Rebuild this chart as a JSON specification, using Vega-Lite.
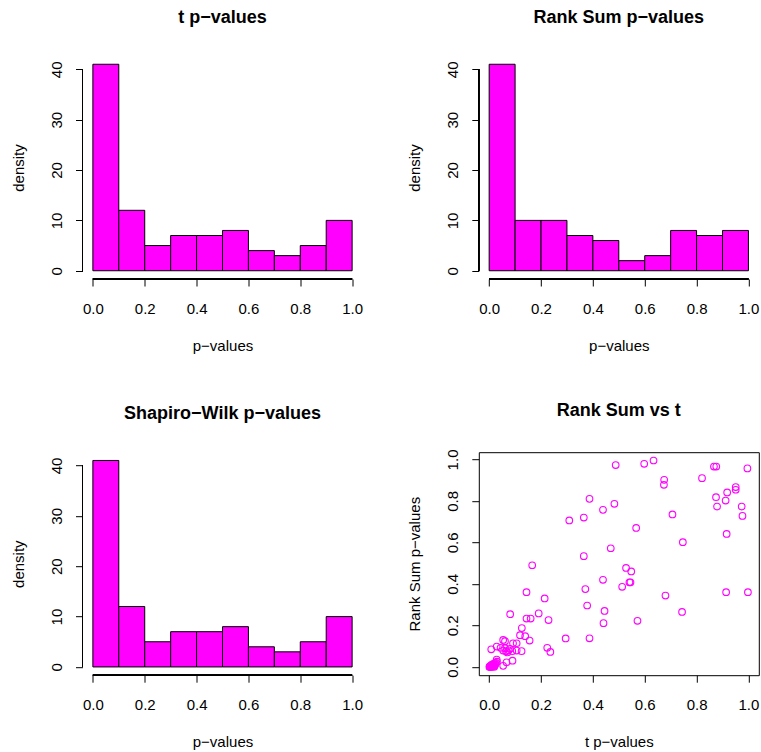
{
  "$schema": "https://vega.github.io/schema/vega-lite/v6.json",
  "background": "white",
  "padding": {"left": 10.5, "top": 8, "right": 0, "bottom": 8},
  "bounds": "flush",
  "columns": 2,
  "spacing": {"column": 116.3, "row": 173.2},
  "config": {
    "font": "Liberation Sans",
    "view": {"stroke": null},
    "axis": {
      "domain": false, "grid": false, "ticks": true, "tickColor": "black", "tickSize": 7, "tickWidth": 1,
      "labelFont": "Liberation Sans", "labelFontSize": 15, "labelColor": "black", "labelFlush": false, "labelOverlap": false,
      "titleFont": "Liberation Sans", "titleFontSize": 15, "titleFontWeight": "normal", "titleColor": "black"
    },
    "axisX": {"labelBaseline": "alphabetic", "labelPadding": 27.7, "titleBaseline": "alphabetic", "titleY": 71.4},
    "axisY": {"labelAngle": 270, "labelAlign": "center", "labelBaseline": "alphabetic", "labelPadding": 14, "titleAngle": 270, "titleBaseline": "alphabetic", "titleX": -59.4},
    "title": {"font": "Liberation Sans", "fontSize": 18, "fontWeight": "bold", "color": "black", "baseline": "alphabetic", "offset": 29.5, "anchor": "middle", "frame": "group"}
  },
  "datasets": {
    "t_hist": [
      {"bin_start": 0.0, "bin_end": 0.1, "count": 41}, {"bin_start": 0.1, "bin_end": 0.2, "count": 12},
      {"bin_start": 0.2, "bin_end": 0.3, "count": 5}, {"bin_start": 0.3, "bin_end": 0.4, "count": 7},
      {"bin_start": 0.4, "bin_end": 0.5, "count": 7}, {"bin_start": 0.5, "bin_end": 0.6, "count": 8},
      {"bin_start": 0.6, "bin_end": 0.7, "count": 4}, {"bin_start": 0.7, "bin_end": 0.8, "count": 3},
      {"bin_start": 0.8, "bin_end": 0.9, "count": 5}, {"bin_start": 0.9, "bin_end": 1.0, "count": 10}
    ],
    "rank_hist": [
      {"bin_start": 0.0, "bin_end": 0.1, "count": 41}, {"bin_start": 0.1, "bin_end": 0.2, "count": 10},
      {"bin_start": 0.2, "bin_end": 0.3, "count": 10}, {"bin_start": 0.3, "bin_end": 0.4, "count": 7},
      {"bin_start": 0.4, "bin_end": 0.5, "count": 6}, {"bin_start": 0.5, "bin_end": 0.6, "count": 2},
      {"bin_start": 0.6, "bin_end": 0.7, "count": 3}, {"bin_start": 0.7, "bin_end": 0.8, "count": 8},
      {"bin_start": 0.8, "bin_end": 0.9, "count": 7}, {"bin_start": 0.9, "bin_end": 1.0, "count": 8}
    ],
    "sw_hist": [
      {"bin_start": 0.0, "bin_end": 0.1, "count": 41}, {"bin_start": 0.1, "bin_end": 0.2, "count": 12},
      {"bin_start": 0.2, "bin_end": 0.3, "count": 5}, {"bin_start": 0.3, "bin_end": 0.4, "count": 7},
      {"bin_start": 0.4, "bin_end": 0.5, "count": 7}, {"bin_start": 0.5, "bin_end": 0.6, "count": 8},
      {"bin_start": 0.6, "bin_end": 0.7, "count": 4}, {"bin_start": 0.7, "bin_end": 0.8, "count": 3},
      {"bin_start": 0.8, "bin_end": 0.9, "count": 5}, {"bin_start": 0.9, "bin_end": 1.0, "count": 10}
    ],
    "points": [
      {"t": 0.488, "r": 0.973}, {"t": 0.598, "r": 0.979}, {"t": 0.634, "r": 0.995}, {"t": 0.867, "r": 0.966}, {"t": 0.876, "r": 0.966},
      {"t": 0.821, "r": 0.910}, {"t": 0.996, "r": 0.957}, {"t": 0.675, "r": 0.902}, {"t": 0.674, "r": 0.878}, {"t": 0.951, "r": 0.867},
      {"t": 0.951, "r": 0.854}, {"t": 0.918, "r": 0.841}, {"t": 0.875, "r": 0.818}, {"t": 0.912, "r": 0.802}, {"t": 0.879, "r": 0.773},
      {"t": 0.974, "r": 0.773}, {"t": 0.977, "r": 0.728}, {"t": 0.387, "r": 0.810}, {"t": 0.483, "r": 0.786}, {"t": 0.439, "r": 0.757},
      {"t": 0.365, "r": 0.720}, {"t": 0.309, "r": 0.706}, {"t": 0.707, "r": 0.735}, {"t": 0.567, "r": 0.670}, {"t": 0.916, "r": 0.641},
      {"t": 0.747, "r": 0.601}, {"t": 0.469, "r": 0.572}, {"t": 0.365, "r": 0.534}, {"t": 0.166, "r": 0.490}, {"t": 0.528, "r": 0.477},
      {"t": 0.548, "r": 0.460}, {"t": 0.541, "r": 0.408}, {"t": 0.545, "r": 0.408}, {"t": 0.439, "r": 0.420}, {"t": 0.513, "r": 0.386},
      {"t": 0.371, "r": 0.375}, {"t": 0.144, "r": 0.360}, {"t": 0.914, "r": 0.360}, {"t": 0.998, "r": 0.360}, {"t": 0.680, "r": 0.344},
      {"t": 0.214, "r": 0.330}, {"t": 0.378, "r": 0.296}, {"t": 0.445, "r": 0.270}, {"t": 0.744, "r": 0.265}, {"t": 0.191, "r": 0.258},
      {"t": 0.144, "r": 0.233}, {"t": 0.160, "r": 0.233}, {"t": 0.229, "r": 0.226}, {"t": 0.572, "r": 0.222}, {"t": 0.441, "r": 0.211},
      {"t": 0.126, "r": 0.187}, {"t": 0.119, "r": 0.153}, {"t": 0.139, "r": 0.148}, {"t": 0.156, "r": 0.127}, {"t": 0.295, "r": 0.137},
      {"t": 0.387, "r": 0.138}, {"t": 0.106, "r": 0.114}, {"t": 0.106, "r": 0.079}, {"t": 0.125, "r": 0.076}, {"t": 0.224, "r": 0.092},
      {"t": 0.236, "r": 0.072},
      {"t": 0.081, "r": 0.254}, {"t": 0.054, "r": 0.130}, {"t": 0.061, "r": 0.124}, {"t": 0.092, "r": 0.114},
      {"t": 0.008, "r": 0.085}, {"t": 0.029, "r": 0.098}, {"t": 0.044, "r": 0.092}, {"t": 0.054, "r": 0.079}, {"t": 0.061, "r": 0.090},
      {"t": 0.070, "r": 0.070}, {"t": 0.080, "r": 0.087}, {"t": 0.089, "r": 0.076}, {"t": 0.090, "r": 0.030}, {"t": 0.067, "r": 0.022},
      {"t": 0.054, "r": 0.005}, {"t": 0.029, "r": 0.035}, {"t": 0.065, "r": 0.075}, {"t": 0.075, "r": 0.080},
      {"t": 0.001, "r": 0.000}, {"t": 0.002, "r": 0.002}, {"t": 0.003, "r": 0.001}, {"t": 0.004, "r": 0.004}, {"t": 0.005, "r": 0.000},
      {"t": 0.006, "r": 0.003}, {"t": 0.007, "r": 0.006}, {"t": 0.008, "r": 0.001}, {"t": 0.009, "r": 0.010}, {"t": 0.010, "r": 0.004},
      {"t": 0.011, "r": 0.002}, {"t": 0.012, "r": 0.008}, {"t": 0.013, "r": 0.012}, {"t": 0.014, "r": 0.003}, {"t": 0.015, "r": 0.006},
      {"t": 0.017, "r": 0.015}, {"t": 0.018, "r": 0.010}, {"t": 0.020, "r": 0.004}, {"t": 0.022, "r": 0.018}, {"t": 0.024, "r": 0.012},
      {"t": 0.026, "r": 0.020}, {"t": 0.030, "r": 0.025}, {"t": 0.019, "r": 0.000}
    ]
  },
  "concat": [
    {
      "title": "t p−values",
      "width": 280, "height": 223,
      "data": {"name": "t_hist"},
      "layer": [
        {
          "mark": {"type": "rect", "fill": "#FF00FF", "stroke": "black", "strokeWidth": 1},
          "encoding": {
            "x": {"field": "bin_start", "type": "quantitative", "scale": {"domain": [-0.04, 1.04], "nice": false, "zero": false},
                  "axis": {"values": [0, 0.2, 0.4, 0.6, 0.8, 1], "format": ".1f", "title": "p−values"}},
            "x2": {"field": "bin_end"},
            "y": {"field": "count", "type": "quantitative", "scale": {"domain": [-1.64, 42.64], "nice": false, "zero": false},
                  "axis": {"values": [0, 10, 20, 30, 40], "format": "d", "title": "density"}},
            "y2": {"datum": 0}
          }
        },
        {"mark": {"type": "rule", "color": "black", "strokeWidth": 1},
         "encoding": {"x": {"datum": 0}, "x2": {"datum": 1}, "y": {"datum": -1.64}}},
        {"mark": {"type": "rule", "color": "black", "strokeWidth": 1},
         "encoding": {"x": {"datum": -0.04}, "y": {"datum": 0}, "y2": {"datum": 40}}}
      ]
    },
    {
      "title": "Rank Sum p−values",
      "width": 280, "height": 223,
      "data": {"name": "rank_hist"},
      "layer": [
        {
          "mark": {"type": "rect", "fill": "#FF00FF", "stroke": "black", "strokeWidth": 1},
          "encoding": {
            "x": {"field": "bin_start", "type": "quantitative", "scale": {"domain": [-0.04, 1.04], "nice": false, "zero": false},
                  "axis": {"values": [0, 0.2, 0.4, 0.6, 0.8, 1], "format": ".1f", "title": "p−values"}},
            "x2": {"field": "bin_end"},
            "y": {"field": "count", "type": "quantitative", "scale": {"domain": [-1.64, 42.64], "nice": false, "zero": false},
                  "axis": {"values": [0, 10, 20, 30, 40], "format": "d", "title": "density"}},
            "y2": {"datum": 0}
          }
        },
        {"mark": {"type": "rule", "color": "black", "strokeWidth": 1},
         "encoding": {"x": {"datum": 0}, "x2": {"datum": 1}, "y": {"datum": -1.64}}},
        {"mark": {"type": "rule", "color": "black", "strokeWidth": 1},
         "encoding": {"x": {"datum": -0.04}, "y": {"datum": 0}, "y2": {"datum": 40}}}
      ]
    },
    {
      "title": "Shapiro−Wilk p−values",
      "width": 280, "height": 223,
      "data": {"name": "sw_hist"},
      "layer": [
        {
          "mark": {"type": "rect", "fill": "#FF00FF", "stroke": "black", "strokeWidth": 1},
          "encoding": {
            "x": {"field": "bin_start", "type": "quantitative", "scale": {"domain": [-0.04, 1.04], "nice": false, "zero": false},
                  "axis": {"values": [0, 0.2, 0.4, 0.6, 0.8, 1], "format": ".1f", "title": "p−values"}},
            "x2": {"field": "bin_end"},
            "y": {"field": "count", "type": "quantitative", "scale": {"domain": [-1.64, 42.64], "nice": false, "zero": false},
                  "axis": {"values": [0, 10, 20, 30, 40], "format": "d", "title": "density"}},
            "y2": {"datum": 0}
          }
        },
        {"mark": {"type": "rule", "color": "black", "strokeWidth": 1},
         "encoding": {"x": {"datum": 0}, "x2": {"datum": 1}, "y": {"datum": -1.64}}},
        {"mark": {"type": "rule", "color": "black", "strokeWidth": 1},
         "encoding": {"x": {"datum": -0.04}, "y": {"datum": 0}, "y2": {"datum": 40}}}
      ]
    },
    {
      "title": "Rank Sum vs t",
      "width": 280, "height": 223,
      "view": {"stroke": "black", "strokeWidth": 1},
      "data": {"name": "points"},
      "mark": {"type": "point", "shape": "circle", "filled": false, "color": "#FF00FF", "size": 44, "strokeWidth": 1.1, "opacity": 1},
      "encoding": {
        "x": {"field": "t", "type": "quantitative", "scale": {"domain": [-0.04, 1.04], "nice": false, "zero": false},
              "axis": {"values": [0, 0.2, 0.4, 0.6, 0.8, 1], "format": ".1f", "title": "t p−values"}},
        "y": {"field": "r", "type": "quantitative", "scale": {"domain": [-0.04, 1.035], "nice": false, "zero": false},
              "axis": {"values": [0, 0.2, 0.4, 0.6, 0.8, 1], "format": ".1f", "title": "Rank Sum p−values"}}
      }
    }
  ]
}
